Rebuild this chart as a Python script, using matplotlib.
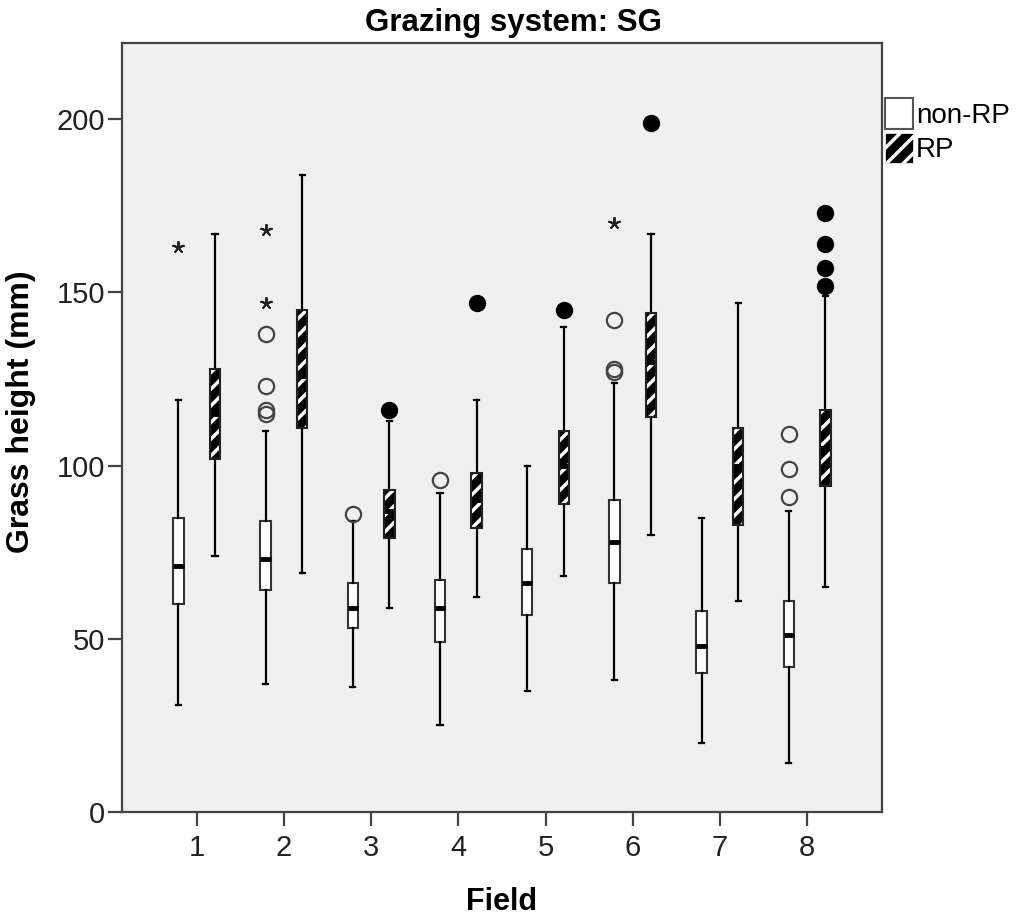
import matplotlib
matplotlib.use("Agg")
import matplotlib.pyplot as plt
from matplotlib.patches import Patch, PathPatch

plt.rcParams['font.family'] = ['Liberation Sans', 'DejaVu Sans']
plt.rcParams['hatch.linewidth'] = 2.5

# data (grass height, mm)
fields = [1, 2, 3, 4, 5, 6, 7, 8]

non_q1 = [60, 64, 53, 49, 57, 66, 40, 42]
non_med = [71, 73, 59, 59, 66, 78, 48, 51]
non_q3 = [85, 84, 66, 67, 76, 90, 58, 61]
non_lo = [31, 37, 36, 25, 35, 38, 20, 14]
non_hi = [119, 110, 84, 92, 100, 124, 85, 87]
non_circles = [[], [138, 123, 116, 115], [86], [96], [], [142, 128, 127], [], [109, 99, 91]]
non_stars = [[163], [168, 147], [], [], [], [170], [], []]

rp_q1 = [102, 111, 79, 82, 89, 114, 83, 94]
rp_med = [115, 126, 87, 90, 100, 130, 100, 105]
rp_q3 = [128, 145, 93, 98, 110, 144, 111, 116]
rp_lo = [74, 69, 59, 62, 68, 80, 61, 65]
rp_hi = [167, 184, 113, 119, 140, 167, 147, 149]
rp_dots = [[], [], [116], [147], [145], [199], [], [173, 164, 157, 152]]

offset = 0.21
bw = 0.12


def stats(q1, med, q3, lo, hi):
    return [dict(q1=a, med=b, q3=c, whislo=d, whishi=e, fliers=[])
            for a, b, c, d, e in zip(q1, med, q3, lo, hi)]


fig = plt.figure(figsize=(10.17, 9.18), dpi=100)
ax = fig.add_axes([0.12, 0.1155, 0.747, 0.8375])
ax.set_facecolor('#f0f0f0')

common = dict(widths=bw, patch_artist=True, showfliers=False,
              whiskerprops=dict(color='black', linewidth=1.6),
              capprops=dict(color='black', linewidth=1.6),
              medianprops=dict(color='black', linewidth=3.5, solid_capstyle='butt'))
common['capwidths'] = 0.06

pos_non = [f - offset for f in fields]
pos_rp = [f + offset for f in fields]

ax.bxp(stats(non_q1, non_med, non_q3, non_lo, non_hi), positions=pos_non,
       boxprops=dict(facecolor='white', edgecolor='#333333', linewidth=1.5),
       **common)
bp_rp = ax.bxp(stats(rp_q1, rp_med, rp_q3, rp_lo, rp_hi), positions=pos_rp,
               boxprops=dict(facecolor='black', edgecolor='white', hatch='//', linewidth=0),
               **common)
for b in bp_rp['boxes']:
    ax.add_patch(PathPatch(b.get_path(), fill=False, edgecolor='#222222',
                           linewidth=1.5, zorder=b.get_zorder() + 0.1))

# outliers
for i, f in enumerate(fields):
    if non_circles[i]:
        ax.plot([f - offset] * len(non_circles[i]), non_circles[i], 'o', ms=11,
                mfc='none', mec='#444444', mew=1.6, zorder=4)
    if non_stars[i]:
        ax.plot([f - offset] * len(non_stars[i]), non_stars[i], marker=(5, 2, 0),
                ls='none', ms=9, mec='#222222', mew=1.4, zorder=4)
    if rp_dots[i]:
        ax.plot([f + offset] * len(rp_dots[i]), rp_dots[i], 'o', ms=11.5,
                color='black', zorder=4)

ax.set_xlim(0.145, 8.855)
ax.set_ylim(0, 222)
ax.set_xticks(fields)
ax.set_xticklabels([str(f) for f in fields])
ax.set_yticks([0, 50, 100, 150, 200])

for s in ax.spines.values():
    s.set_color('#444444')
    s.set_linewidth(1.6)
ax.tick_params(axis='both', length=10, width=1.6, color='#444444',
               labelsize=21, labelcolor='#222222')
ax.tick_params(axis='x', pad=6)
ax.tick_params(axis='y', pad=2)

ax.set_title('Grazing system: SG', fontsize=22.5, fontweight='bold', pad=9, x=0.515)
ax.set_xlabel('Field', fontsize=22, fontweight='bold', labelpad=18)
ax.set_ylabel('Grass height (mm)', fontsize=23, fontweight='bold')
ax.yaxis.set_label_coords(-0.113, 0.52)

handles = [Patch(facecolor='white', edgecolor='#555555', linewidth=1.5, label='non-RP'),
           Patch(facecolor='black', edgecolor='white', hatch='//', linewidth=0.5, label='RP')]
fig.legend(handles=handles, loc='upper left', bbox_to_anchor=(0.857, 0.908),
           frameon=False, fontsize=20, handlelength=1.0, handleheight=1.3,
           handletextpad=0.1, labelspacing=0.15, borderpad=0.0)

fig.savefig('out.png', dpi=100)
